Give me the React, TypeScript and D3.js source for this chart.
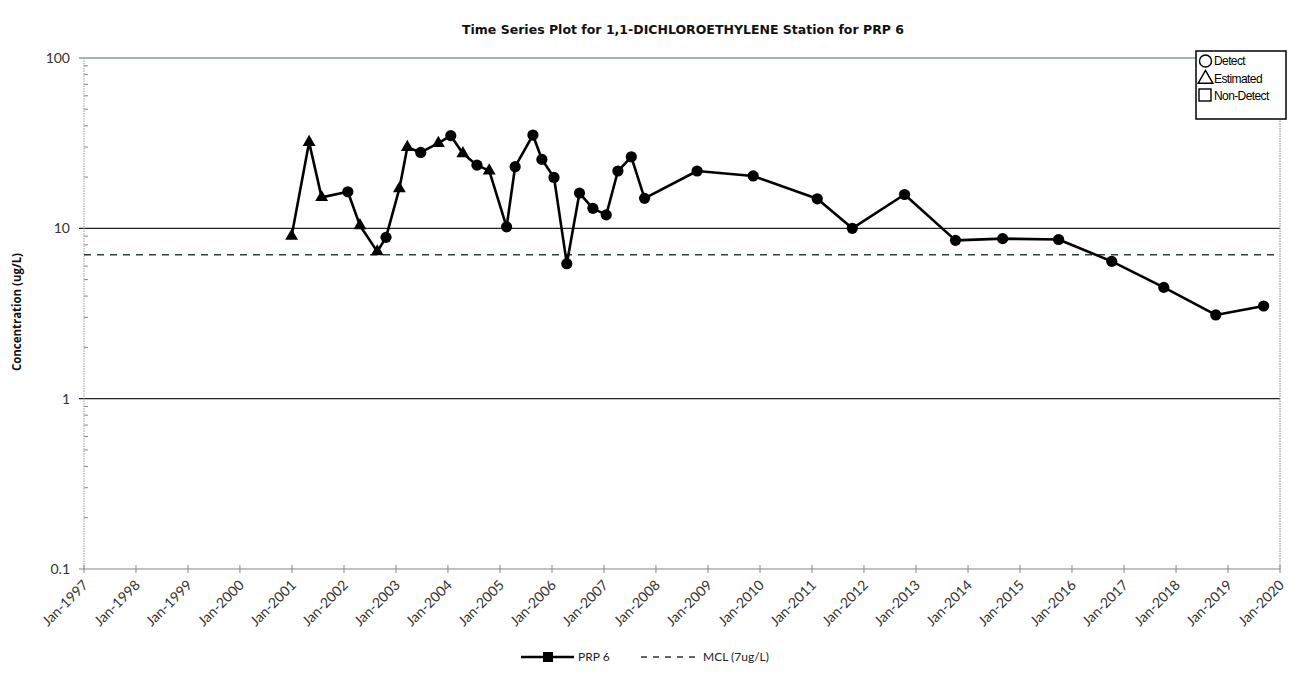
import React from 'react';
import * as d3 from 'd3';

// Sampling record for station PRP 6 (1,1-DICHLOROETHYLENE, ug/L)
const sampleDates = [
  '2000-12-29', '2001-05-01', '2001-07-28', '2002-01-28', '2002-04-23', '2002-08-23',
  '2002-10-23', '2003-01-25', '2003-03-22', '2003-06-24', '2003-10-26', '2004-01-21',
  '2004-04-15', '2004-07-23', '2004-10-17', '2005-02-16', '2005-04-17', '2005-08-20',
  '2005-10-22', '2006-01-15', '2006-04-15', '2006-07-13', '2006-10-15', '2007-01-17',
  '2007-04-09', '2007-07-12', '2007-10-13', '2008-10-16', '2009-11-14', '2011-02-07',
  '2011-10-11', '2012-10-12', '2013-10-05', '2014-09-01', '2015-09-29', '2016-10-06',
  '2017-10-07', '2018-10-07', '2019-09-08',
];
const concentrations = [
  9.0, 32.0, 15.2, 16.4, 10.4, 7.3,
  8.85, 17.1, 29.9, 27.9, 31.6, 35.0,
  27.5, 23.5, 21.8, 10.2, 23.0, 35.3,
  25.4, 19.9, 6.2, 16.1, 13.1, 12.0,
  21.7, 26.3, 15.0, 21.7, 20.3, 14.9,
  10.0, 15.8, 8.5, 8.7, 8.6, 6.4,
  4.5, 3.1, 3.5,
];
// D = detect, E = estimated
const qualifiers = [
  'E', 'E', 'E', 'D', 'E', 'E',
  'D', 'E', 'E', 'D', 'E', 'D',
  'E', 'D', 'E', 'D', 'D', 'D',
  'D', 'D', 'D', 'D', 'D', 'D',
  'D', 'D', 'D', 'D', 'D', 'D',
  'D', 'D', 'D', 'D', 'D', 'D',
  'D', 'D', 'D',
];

const mclValue = 7;
const axisYears = d3.range(1997, 2021);
const yTickValues = [0.1, 1, 10, 100];
const yTickLabels = ['0.1', '1', '10', '100'];
const qualifierLegend = ['Detect', 'Estimated', 'Non-Detect'];

const W = 1307;
const H = 694;
const left = 84;
const right = 1280;
const top = 58;
const bottom = 569;

const labelFont = 'Lato, "Liberation Sans", sans-serif';

export default function App() {
  const x = d3
    .scaleTime()
    .domain([new Date(1997, 0, 1), new Date(2020, 0, 1)])
    .range([left, right]);
  const y = d3.scaleLog().domain([0.1, 100]).range([bottom, top]);

  const points = sampleDates.map((d, i) => ({
    date: new Date(d + 'T00:00:00'),
    value: concentrations[i],
    q: qualifiers[i],
  }));

  const line = d3
    .line<{ date: Date; value: number }>()
    .x((d) => x(d.date))
    .y((d) => y(d.value));

  const triangle = d3.symbol().type(d3.symbolTriangle).size(72)();
  const legendTriangle = d3.symbol().type(d3.symbolTriangle).size(95)();

  // minor log ticks 2..9 inside each decade
  const minorTicks: number[] = [];
  [0.1, 1, 10].forEach((dec) => {
    for (let k = 2; k <= 9; k++) minorTicks.push(dec * k);
  });

  const yearTicks = axisYears.map((yr) => ({ yr, px: x(new Date(yr, 0, 1)) }));

  return (
    <svg
      width={W}
      height={H}
      style={{ position: 'absolute', left: 0, top: 0, background: '#fff' }}
    >
      {/* title */}
      <text
        x={683}
        y={34}
        textAnchor="middle"
        fontFamily='"DejaVu Sans Condensed", "Liberation Sans Narrow", "Open Sans", sans-serif'
        fontWeight="bold"
        fontSize={13}
        textLength={442}
        lengthAdjust="spacingAndGlyphs"
        fill="#111"
      >
        Time Series Plot for 1,1-DICHLOROETHYLENE Station for PRP  6
      </text>

      {/* y axis title */}
      <text
        transform={`translate(21,${312}) rotate(-90)`}
        textAnchor="middle"
        fontFamily='"Open Sans", sans-serif'
        fontWeight="bold"
        fontSize={12.5}
        textLength={118}
        lengthAdjust="spacingAndGlyphs"
        fill="#111"
      >
        Concentration (ug/L)
      </text>

      {/* horizontal gridlines at decades */}
      {yTickValues.slice(1).map((v) => (
        <line
          key={'g' + v}
          x1={left - 5}
          x2={right}
          y1={y(v)}
          y2={y(v)}
          stroke={v === 100 ? '#4f6f6a' : '#222'}
          strokeWidth={1.2}
        />
      ))}

      {/* left axis */}
      <line x1={left} x2={left} y1={top} y2={bottom} stroke="#999" strokeWidth={1} strokeDasharray="1.5,1" />
      {minorTicks.map((v) => (
        <line key={'m' + v} x1={left} x2={left + 4} y1={y(v)} y2={y(v)} stroke="#888" strokeWidth={1} />
      ))}
      {yTickValues.map((v, i) => (
        <text
          key={'yl' + v}
          x={70}
          y={y(v) + 5}
          textAnchor="end"
          fontFamily={labelFont}
          fontSize={14}
          fill="#333"
        >
          {yTickLabels[i]}
        </text>
      ))}

      {/* right border */}
      <line x1={right} x2={right} y1={top} y2={bottom} stroke="#888" strokeWidth={1} strokeDasharray="1.5,1" />

      {/* bottom axis */}
      <line x1={left - 5} x2={right} y1={bottom} y2={bottom} stroke="#7a8a88" strokeWidth={1.2} />
      {yearTicks.map((t) => (
        <line key={'xt' + t.yr} x1={t.px} x2={t.px} y1={bottom - 4} y2={bottom + 4} stroke="#888" strokeWidth={1} />
      ))}
      {yearTicks.map((t) => (
        <text
          key={'xl' + t.yr}
          transform={`translate(${t.px + 5},${bottom + 17}) rotate(-45)`}
          textAnchor="end"
          fontFamily={labelFont}
          fontSize={14}
          fill="#333"
        >
          {`Jan-${t.yr}`}
        </text>
      ))}

      {/* MCL reference line */}
      <line
        x1={left}
        x2={right - 4}
        y1={y(mclValue)}
        y2={y(mclValue)}
        stroke="#2f3f3f"
        strokeWidth={1.6}
        strokeDasharray="7,6"
      />

      {/* concentration series */}
      <path d={line(points) || ''} fill="none" stroke="#000" strokeWidth={2.6} strokeLinejoin="round" />
      {points.map((p, i) =>
        p.q === 'E' ? (
          <path key={'p' + i} d={triangle || ''} transform={`translate(${x(p.date)},${y(p.value)})`} fill="#000" />
        ) : (
          <circle key={'p' + i} cx={x(p.date)} cy={y(p.value)} r={5.6} fill="#000" />
        )
      )}

      {/* qualifier legend */}
      <rect x={1196} y={51} width={90} height={68} fill="#fff" stroke="#000" strokeWidth={1.5} />
      <circle cx={1205.5} cy={61} r={6} fill="none" stroke="#000" strokeWidth={1.4} />
      <path d={legendTriangle || ''} transform="translate(1205.5,79)" fill="none" stroke="#000" strokeWidth={1.4} />
      <rect x={1199} y={89} width={12} height={12} fill="none" stroke="#000" strokeWidth={1.4} />
      {qualifierLegend.map((t, i) => (
        <text
          key={t}
          x={1214}
          y={65 + i * 17.5}
          fontFamily='"Liberation Sans", Arial, sans-serif'
          fontSize={12}
          letterSpacing={-0.6}
          fill="#000"
        >
          {t}
        </text>
      ))}

      {/* series legend */}
      <line x1={521} x2={574} y1={657} y2={657} stroke="#000" strokeWidth={2.6} />
      <rect x={543} y={652} width={10} height={10} fill="#000" />
      <text x={578} y={661} fontFamily={labelFont} fontSize={12} fill="#222">
        PRP  6
      </text>
      <line x1={641} x2={696} y1={657} y2={657} stroke="#333" strokeWidth={1.3} strokeDasharray="6,6" />
      <text x={703} y={661} fontFamily={labelFont} fontSize={12} fill="#222">
        MCL (7ug/L)
      </text>
    </svg>
  );
}
